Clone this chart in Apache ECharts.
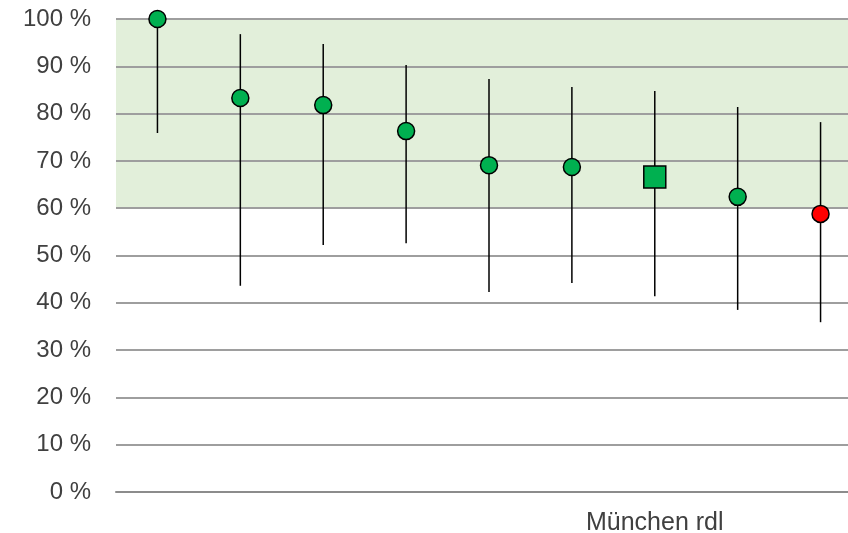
<!DOCTYPE html>
<html>
<head>
<meta charset="utf-8">
<script src="https://cdn.jsdelivr.net/npm/echarts@6/dist/echarts.min.js"></script>
<style>
  html, body { margin: 0; padding: 0; background: #fff; }
  #chart { width: 848px; height: 533px; }
</style>
</head>
<body>
<div id="chart"></div>
<script>
// categories (only one is labelled in the original)
const categories = ['', '', '', '', '', '', 'München rdl', '', ''];
// point values in %
const values = [100, 83.3, 81.8, 76.3, 69.1, 68.7, 66.6, 62.4, 58.8];
// error bar ends in %
const lows  = [75.9, 43.6, 52.2, 52.6, 42.3, 44.2, 41.4, 38.5, 35.9];
const highs = [100, 96.8, 94.7, 90.3, 87.3, 85.6, 84.8, 81.4, 78.2];
// target band
const bandFrom = 60;
const bandTo = 100;
const yTicks = [0, 10, 20, 30, 40, 50, 60, 70, 80, 90, 100];

const highlightIdx = 6;   // square marker
const belowIdx = 8;       // red marker

let chart = echarts.init(document.getElementById('chart'));

let pointData = values.map(function (v, i) {
  let item = { value: [i, v] };
  if (i === highlightIdx) {
    item.symbol = 'rect';
    item.symbolSize = 22;
  }
  if (i === belowIdx) {
    item.itemStyle = { color: '#FF0000' };
  }
  return item;
});

let barData = lows.map(function (lo, i) { return [i, lo, highs[i]]; });

let option = {
  animation: false,
  grid: { left: 116, top: 19, width: 746, height: 473, outerBoundsMode: 'none', containLabel: false },
  xAxis: {
    type: 'category',
    data: categories,
    axisLine: { show: true, lineStyle: { color: '#8C8C8C', width: 2 } },
    axisTick: { show: false },
    axisLabel: {
      interval: 0,
      margin: 19,
      fontSize: 25,
      color: '#404040',
      fontFamily: 'Liberation Sans, Arial, sans-serif'
    },
    splitLine: { show: false }
  },
  yAxis: {
    type: 'value',
    min: yTicks[0],
    max: yTicks[yTicks.length - 1],
    interval: 10,
    axisLine: { show: false },
    axisTick: { show: false },
    axisLabel: {
      formatter: '{value} %',
      margin: 25,
      fontSize: 24,
      color: '#404040',
      fontFamily: 'Liberation Sans, Arial, sans-serif'
    },
    splitLine: { lineStyle: { color: '#9E9E9E', width: 2 } }
  },
  series: [
    {
      // shaded target band, below grid lines
      type: 'scatter',
      data: [],
      silent: true,
      markArea: {
        silent: true,
        z: -1,
        itemStyle: { color: '#E2EFDA' },
        data: [[{ yAxis: bandFrom }, { yAxis: bandTo }]]
      }
    },
    {
      type: 'custom',
      z: 3,
      data: barData,
      encode: { x: 0, y: [1, 2] },
      renderItem: function (params, api) {
        let lo = api.coord([api.value(0), api.value(1)]);
        let hi = api.coord([api.value(0), api.value(2)]);
        return {
          type: 'line',
          shape: { x1: lo[0], y1: lo[1], x2: hi[0], y2: hi[1] },
          style: { stroke: '#000', lineWidth: 1.5 }
        };
      }
    },
    {
      type: 'scatter',
      z: 4,
      symbol: 'circle',
      symbolSize: 17,
      itemStyle: { color: '#00B050', borderColor: '#000', borderWidth: 1.5, opacity: 1 },
      data: pointData
    }
  ]
};
chart.setOption(option);
</script>
</body>
</html>
